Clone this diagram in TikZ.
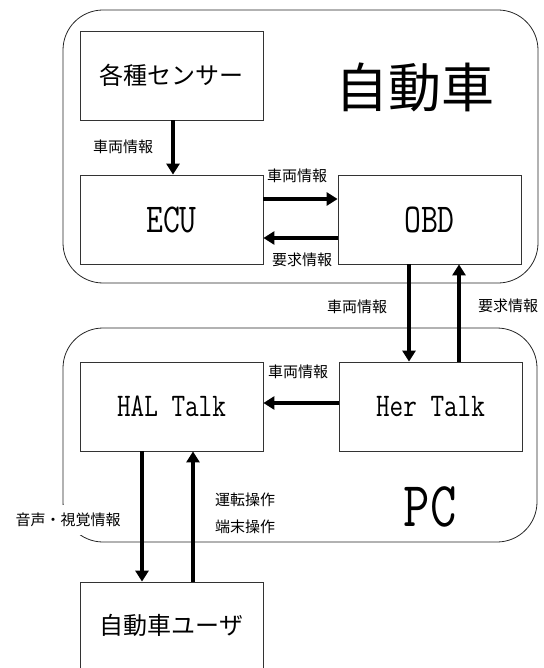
\documentclass[tikz,border=0pt]{standalone}
\usepackage{fontspec}
\usetikzlibrary{arrows.meta}
\newfontfamily\jp{Noto Sans CJK JP}
\newcommand{\lat}[2]{\scalebox{0.8}[1]{\ttfamily\fontsize{#1}{#1}\selectfont #2}}
\begin{document}
\begin{tikzpicture}[x=1pt,y=-1pt,
  box/.style={draw=black!80, line width=0.8pt, minimum width=183pt, minimum height=89pt, inner sep=0pt},
  grp/.style={draw=black!85, line width=0.8pt, rounded corners=40pt, inner sep=0pt},
  arr/.style={line width=3.5pt, -{Triangle[length=11pt,width=13pt]}},
  lab/.style={font=\jp\fontsize{15}{15}\selectfont, inner sep=1pt},
  big/.style={font=\jp\fontsize{24}{24}\selectfont}
]
\useasboundingbox (0,0) rectangle (543,668);
\clip (0,0) rectangle (543,668);
% groups
\node[grp, minimum width=475pt, minimum height=273pt] (car) at (300.5,146.5) {};
\node[grp, minimum width=474pt, minimum height=214pt] (pc) at (300,435) {};
\node[font=\jp\fontsize{53}{53}\selectfont, inner sep=0pt] (cart) at (415,87) {自動車};
\node[inner sep=0pt] (pct) at (430,507) {\lat{64}{PC}};
% boxes
\node[box, big] (sensor) at (171.5,75.5) {各種センサー};
\node[box] (ecu) at (171.5,219.5) {\lat{41}{ECU}};
\node[box] (obd) at (429.5,219.5) {\lat{41}{OBD}};
\node[box] (hal) at (171.5,406.5) {\lat{33}{HAL Talk}};
\node[box] (her) at (430.5,406.5) {\lat{33}{Her Talk}};
\node[box, big] (user) at (171.5,626.5) {\raisebox{4pt}{自動車ユーザ}};
% arrows
\draw[arr] ([xshift=1.5pt]sensor.south) -- ([xshift=1.5pt]ecu.north);
\draw[arr] ([yshift=20.5pt]ecu.east) -- ([yshift=20.5pt]ecu.east -| obd.west);
\draw[arr] ([yshift=-18.5pt]obd.west) -- ([yshift=-18.5pt]obd.west -| ecu.east);
\draw[arr] ([xshift=-20.5pt]obd.south) -- ([xshift=-20.5pt]obd.south |- her.north);
\draw[arr] ([xshift=29.5pt]obd.south |- her.north) -- ([xshift=29.5pt]obd.south);
\draw[arr] ([yshift=3.5pt]her.west) -- ([yshift=3.5pt]her.west -| hal.east);
\draw[arr] ([xshift=-29.5pt]hal.south) -- ([xshift=-29.5pt]hal.south |- user.north);
\draw[arr] ([xshift=21.5pt]hal.south |- user.north) -- ([xshift=21.5pt]hal.south);
% labels
\node[lab] (l1) at (123,147) {車両情報};
\node[lab] (l2) at (297,176) {車両情報};
\node[lab] (l3) at (302,260) {要求情報};
\node[lab] (l4) at (357,307) {車両情報};
\node[lab] (l5) at (508,306) {要求情報};
\node[lab] (l6) at (298,372) {車両情報};
\node[lab, fill=white, inner xsep=4pt, inner ysep=8pt] (l7) at (68,520) {音声・視覚情報};
\node[lab] (l8) at (245,500) {運転操作};
\node[lab] (l9) at (245,527) {端末操作};
\end{tikzpicture}
\end{document}
